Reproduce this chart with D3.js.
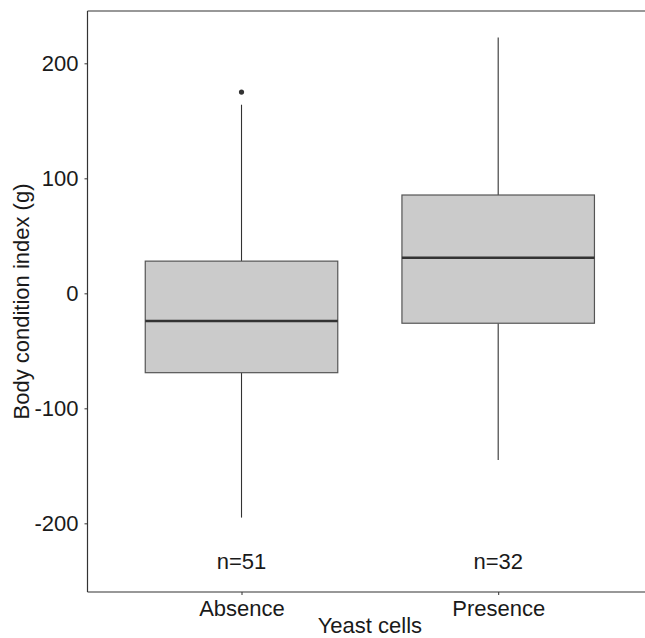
<!DOCTYPE html>
<html>
<head>
<meta charset="utf-8">
<script src="https://cdn.jsdelivr.net/npm/d3@7"></script>
<style>
  html, body { margin: 0; padding: 0; background: #fff; }
  svg { display: block; }
  text { font-family: "Liberation Sans", Arial, sans-serif; fill: #1a1a1a; }
</style>
</head>
<body>
<svg id="chart" width="645" height="638"></svg>
<script>
const categories = ["Absence", "Presence"];
const whiskerLow = [-195, -145];
const q1 = [-69, -26];
const median = [-24, 31];
const q3 = [28, 85.5];
const whiskerHigh = [164, 222.5];
const outliers = [[175], []];
const counts = ["n=51", "n=32"];
const yTicks = [-200, -100, 0, 100, 200];

(function () {
const svg = d3.select("#chart");
const pLeft = 87.5, pTop = 11, pBottom = 592, pRight = 652.2;

const x = d3.scaleLinear().domain([0.4, 2.6]).range([pLeft, pRight]);
const y = d3.scaleLinear().domain([-259.7, 245.5]).range([pBottom, pTop]);
const boxW = 0.75;

// Panel top line
svg.append("line").attr("x1", pLeft).attr("x2", 645).attr("y1", pTop).attr("y2", pTop)
  .attr("stroke", "#333").attr("stroke-width", 1.2);

// y axis
const yAxis = d3.axisLeft(y).tickValues(yTicks).tickSize(3).tickPadding(6).tickFormat((d) => String(d));
const gy = svg.append("g").attr("transform", `translate(${pLeft},0)`).call(yAxis);
gy.select(".domain").attr("stroke", "#333").attr("stroke-width", 1.2).attr("d", `M0,${pTop}V${pBottom}`);
gy.selectAll(".tick line").attr("stroke", "#333");
gy.selectAll(".tick text").attr("font-size", 22).attr("fill", "#1a1a1a")
  .attr("font-family", "Liberation Sans, Arial, sans-serif");

// x axis
const xAxis = d3.axisBottom(x).tickValues([1, 2]).tickSize(3).tickPadding(5)
  .tickFormat((d) => categories[d - 1]);
const gx = svg.append("g").attr("transform", `translate(0,${pBottom})`).call(xAxis);
gx.select(".domain").attr("stroke", "#333").attr("stroke-width", 1.2).attr("d", `M${pLeft},0H645`);
gx.selectAll(".tick line").attr("stroke", "#333");
gx.selectAll(".tick text").attr("font-size", 22).attr("fill", "#1a1a1a")
  .attr("font-family", "Liberation Sans, Arial, sans-serif");

// Boxes
categories.forEach((c, i) => {
  const cx = x(i + 1);
  const g = svg.append("g");
  g.append("line").attr("x1", cx).attr("x2", cx).attr("y1", y(q3[i])).attr("y2", y(whiskerHigh[i]))
    .attr("stroke", "#333").attr("stroke-width", 1.1);
  g.append("line").attr("x1", cx).attr("x2", cx).attr("y1", y(q1[i])).attr("y2", y(whiskerLow[i]))
    .attr("stroke", "#333").attr("stroke-width", 1.1);
  g.append("rect")
    .attr("x", x(i + 1 - boxW / 2)).attr("width", x(i + 1 + boxW / 2) - x(i + 1 - boxW / 2))
    .attr("y", y(q3[i])).attr("height", y(q1[i]) - y(q3[i]))
    .attr("fill", "#cbcbcb").attr("stroke", "#555").attr("stroke-width", 1.2);
  g.append("line")
    .attr("x1", x(i + 1 - boxW / 2)).attr("x2", x(i + 1 + boxW / 2))
    .attr("y1", y(median[i])).attr("y2", y(median[i]))
    .attr("stroke", "#333").attr("stroke-width", 2.4);
  outliers[i].forEach((v) => {
    g.append("circle").attr("cx", cx).attr("cy", y(v)).attr("r", 2.6).attr("fill", "#333");
  });
  svg.append("text").attr("x", cx).attr("y", y(-233)).attr("dy", "0.35em")
    .attr("text-anchor", "middle").attr("font-size", 22).text(counts[i]);
});

// Axis titles
svg.append("text").attr("x", (pLeft + pRight) / 2).attr("y", 633)
  .attr("text-anchor", "middle").attr("font-size", 22).text("Yeast cells");
svg.append("text").attr("transform", `translate(29,${(pTop + pBottom) / 2}) rotate(-90)`)
  .attr("text-anchor", "middle").attr("font-size", 22).text("Body condition index (g)");
})();
</script>
</body>
</html>
